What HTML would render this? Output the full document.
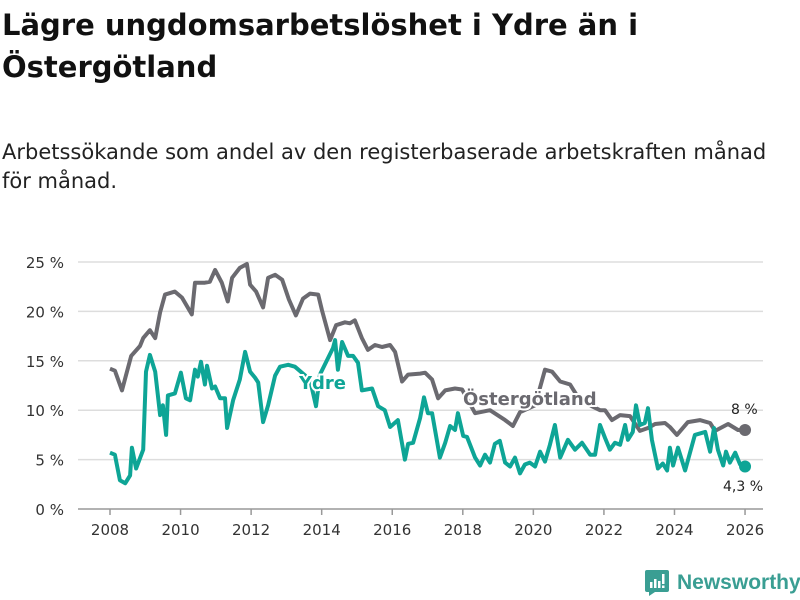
<!DOCTYPE html>
<html><head><meta charset="utf-8">
<style>
body{margin:0;width:800px;height:600px;background:#fff;font-family:"DejaVu Sans","Liberation Sans",sans-serif;overflow:hidden;position:relative}
#title{position:absolute;left:2px;top:4px;font-size:29px;font-weight:bold;line-height:42px;color:#111;width:700px;white-space:nowrap}
#sub{position:absolute;left:2px;top:138px;font-size:21px;line-height:29px;color:#222;width:798px;white-space:nowrap}
svg{position:absolute;left:0;top:0}
</style></head><body>
<div id="title">Lägre ungdomsarbetslöshet i Ydre än i<br>Östergötland</div>
<div id="sub">Arbetssökande som andel av den registerbaserade arbetskraften månad<br>för månad.</div>
<svg id="chart" width="800" height="600"></svg>
<script>
const yTicks=[0,5,10,15,20,25];
const yTickLabels=["0 %","5 %","10 %","15 %","20 %","25 %"];
const xTicks=[2008,2010,2012,2014,2016,2018,2020,2022,2024,2026];
const ostYears=[0,.14,.34,.45,.6,.85,.94,1.13,1.28,1.42,1.56,1.84,2.04,2.32,2.41,2.69,2.83,2.98,3.17,3.34,3.46,3.68,3.88,3.97,4.14,4.34,4.48,4.68,4.88,5.07,5.27,5.47,5.67,5.9,6.01,6.24,6.41,6.66,6.8,6.94,7.14,7.31,7.51,7.71,7.94,8.08,8.28,8.45,8.79,8.93,9.13,9.3,9.5,9.78,9.98,10.35,10.77,11.2,11.42,11.62,12.05,12.33,12.53,12.76,13.04,13.32,13.89,14.03,14.23,14.46,14.74,15.02,15.25,15.45,15.73,15.87,16.07,16.38,16.72,17.01,17.15,17.52,17.8,18.0];
const ostValues=[14.2,14,12,13.5,15.5,16.5,17.3,18.1,17.3,19.9,21.7,22,21.4,19.7,22.9,22.9,23,24.2,22.9,21,23.4,24.4,24.8,22.7,22,20.4,23.4,23.7,23.2,21.2,19.6,21.3,21.8,21.7,20.1,17.1,18.6,18.9,18.8,19.1,17.3,16.1,16.6,16.4,16.6,15.9,12.9,13.6,13.7,13.8,13.1,11.2,12,12.2,12.1,9.7,10,9,8.4,9.8,10.5,14.1,13.9,12.9,12.6,11,10,10,9,9.5,9.4,7.9,8.2,8.6,8.7,8.3,7.5,8.8,9,8.7,7.9,8.6,8,8];
const ydreYears=[0,.14,.28,.43,.57,.62,.74,.94,1.02,1.13,1.28,1.42,1.5,1.59,1.64,1.84,2.01,2.15,2.27,2.41,2.49,2.58,2.69,2.75,2.89,2.98,3.12,3.26,3.32,3.49,3.68,3.83,3.97,4.11,4.2,4.34,4.48,4.68,4.82,5.05,5.24,5.67,5.84,5.95,6.32,6.38,6.46,6.58,6.75,6.89,7.03,7.14,7.43,7.6,7.79,7.94,8.16,8.36,8.45,8.59,8.79,8.9,9.01,9.13,9.35,9.5,9.64,9.78,9.86,10.01,10.12,10.35,10.49,10.63,10.77,10.91,11.05,11.2,11.34,11.48,11.62,11.76,11.9,12.05,12.19,12.33,12.47,12.61,12.76,12.98,13.18,13.38,13.61,13.75,13.89,14.03,14.17,14.31,14.46,14.6,14.68,14.82,14.91,15.02,15.16,15.25,15.36,15.53,15.67,15.79,15.87,15.96,16.1,16.3,16.58,16.87,17.01,17.12,17.23,17.38,17.46,17.57,17.72,17.86,18.0];
const ydreValues=[5.7,5.5,2.9,2.6,3.4,6.2,4.1,6,13.9,15.6,13.9,9.5,10.5,7.5,11.5,11.7,13.8,11.2,11,14.1,13.4,14.9,12.6,14.5,12.2,12.4,11.2,11.2,8.2,11,13.1,15.9,13.9,13.3,12.8,8.8,10.5,13.5,14.4,14.6,14.4,13.1,10.4,13.6,16.3,17.1,14.1,16.9,15.5,15.5,14.8,12.0,12.2,10.4,10,8.3,9,5,6.6,6.7,9.2,11.3,9.7,9.7,5.2,6.7,8.4,8,9.7,7.4,7.3,5.2,4.4,5.5,4.7,6.6,6.9,4.7,4.3,5.2,3.6,4.5,4.7,4.3,5.8,4.8,6.5,8.5,5.2,7,6,6.7,5.5,5.5,8.5,7.2,6,6.7,6.5,8.5,7,7.8,10.5,8.5,8.7,10.2,7,4.1,4.6,3.9,6.2,4.4,6.2,3.9,7.5,7.8,5.8,8.2,6,4.4,5.8,4.7,5.7,4.5,4.3];
const endLabels=["8 %","4,3 %"];

const NS="http://www.w3.org/2000/svg";
const svg=document.getElementById('chart');
const X=y=>110+(y-2008)*35.28;
const Y=v=>509-v*9.88;
function mk(t,a,p){const e=document.createElementNS(NS,t);for(const k in a)e.setAttribute(k,a[k]);(p||svg).appendChild(e);return e;}
yTicks.forEach((t,i)=>{
  const g=mk('line',{x1:78,x2:763,y1:Y(t),y2:Y(t),stroke:t===0?'#999':'#ddd','stroke-width':1.5});
  
  
  const l=mk('text',{x:64,y:Y(t)+6,'text-anchor':'end','font-size':15,fill:'#333'});
  l.textContent=yTickLabels[i];
  
  
});
xTicks.forEach(t=>{
  const tk=mk('line',{x1:X(t),x2:X(t),y1:509,y2:515,stroke:'#999','stroke-width':1.5});
  
  
  const l=mk('text',{x:X(t),y:535,'text-anchor':'middle','font-size':15,fill:'#333'});
  l.textContent=t;
  
  
});
function line(ys,vs,col,name){
  const d=ys.map((y,i)=>(i?'L':'M')+X(2008+y).toFixed(1)+','+Y(vs[i]).toFixed(1)).join('');
  const p=mk('path',{d:d,fill:'none',stroke:col,'stroke-width':4,'stroke-linejoin':'round'});
  
  
  const c=mk('circle',{cx:X(2008+ys[ys.length-1]),cy:Y(vs[vs.length-1]),r:6,fill:col});
  
  
}
line(ostYears,ostValues,'#6b6a70','ostergotland-line');
line(ydreYears,ydreValues,'#0ea596','ydre-line');
function lab(x,y,txt,col,name,size,bold){
  const t=mk('text',{x:x,y:y,'font-size':size,'font-weight':bold?'bold':'normal',fill:col,stroke:'#fff','stroke-width':bold?4:0,'paint-order':'stroke'});
  t.textContent=txt;
  
  
}
lab(299,389,'Ydre','#0ea596','ydre-label',18,true);
lab(463,405,'Östergötland','#6b6a70','ostergotland-label',18,true);
lab(731,414,endLabels[0],'#222','ostergotland-end-value',14,false);
lab(723,491,endLabels[1],'#222','ydre-end-value',14,false);
</script>
<div style="position:absolute;left:645px;top:569px;display:flex;align-items:center">
 <svg width="24" height="28" viewBox="0 0 24 28" style="position:static"><path d="M2 1h20a2 2 0 0 1 2 2v18a2 2 0 0 1-2 2H10l-6 4v-4H2a2 2 0 0 1-2-2V3a2 2 0 0 1 2-2z" fill="#3a9e93"/><rect x="5" y="13" width="2.5" height="6" fill="#fff"/><rect x="9" y="10" width="2.5" height="9" fill="#fff"/><rect x="13" y="12" width="2.5" height="7" fill="#fff"/><rect x="17" y="5" width="2.5" height="10" fill="#fff"/><rect x="17" y="16.5" width="2.5" height="2.5" fill="#fff"/></svg>
 <span style="margin-left:8px;font-size:21px;font-weight:bold;color:#3a9e93;font-family:'Liberation Sans',sans-serif">Newsworthy</span>
</div>
</body></html>
